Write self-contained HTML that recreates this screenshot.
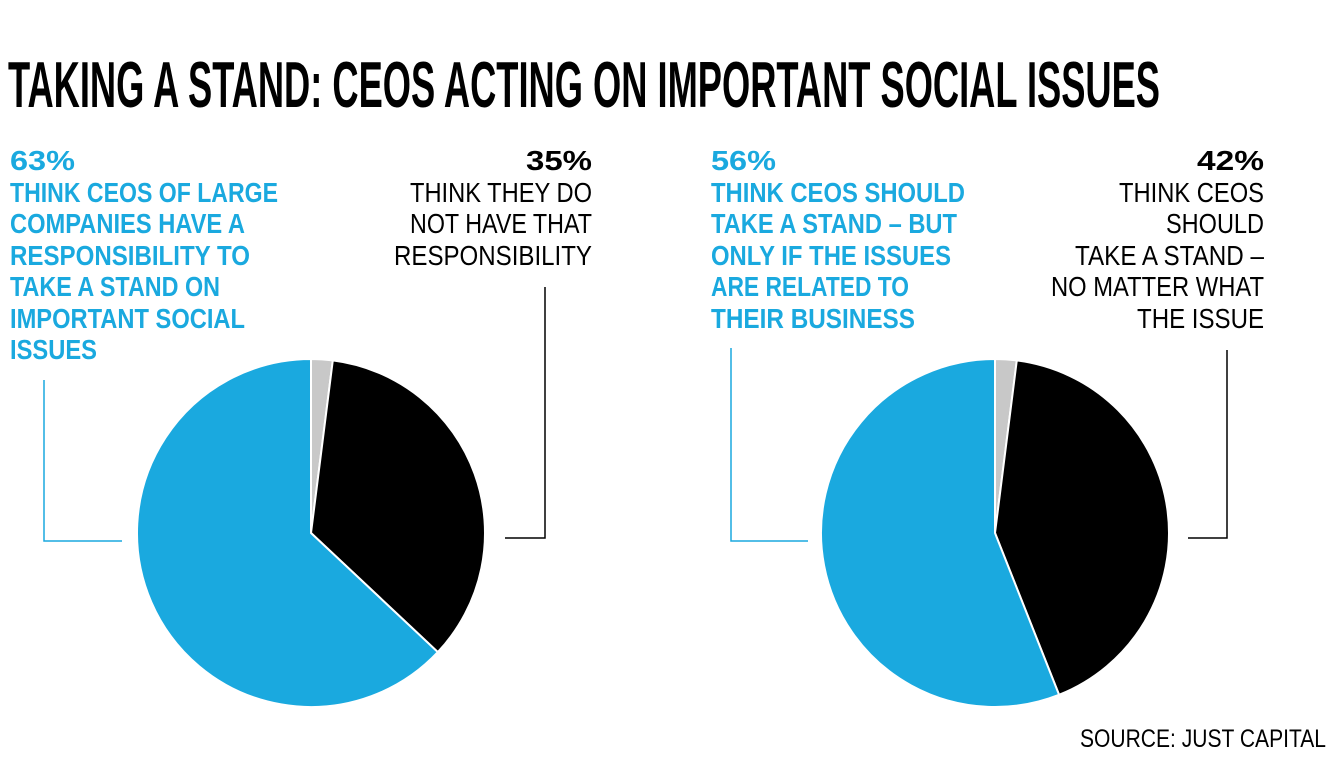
<!DOCTYPE html>
<html><head><meta charset="utf-8"><style>
html,body{margin:0;padding:0;background:#fff;}
svg{display:block;font-family:"Liberation Sans",sans-serif;}
</style></head><body>
<svg width="1333" height="767" viewBox="0 0 1333 767">
<text x="8" y="107" font-size="65" font-weight="bold" textLength="1152" lengthAdjust="spacingAndGlyphs">TAKING A STAND: CEOS ACTING ON IMPORTANT SOCIAL ISSUES</text>
<g id="pies"></g>
<g font-size="28" font-weight="bold" fill="#1aa9df">
<text x="10" y="170" textLength="65" lengthAdjust="spacingAndGlyphs">63%</text>
<text x="10" y="202" textLength="268" lengthAdjust="spacingAndGlyphs">THINK CEOS OF LARGE</text>
<text x="10" y="233" textLength="235" lengthAdjust="spacingAndGlyphs">COMPANIES HAVE A</text>
<text x="10" y="265" textLength="240" lengthAdjust="spacingAndGlyphs">RESPONSIBILITY TO</text>
<text x="10" y="296" textLength="210" lengthAdjust="spacingAndGlyphs">TAKE A STAND ON</text>
<text x="10" y="328" textLength="235" lengthAdjust="spacingAndGlyphs">IMPORTANT SOCIAL</text>
<text x="10" y="359" textLength="87" lengthAdjust="spacingAndGlyphs">ISSUES</text>
</g>
<g font-size="28" fill="#000" text-anchor="end">
<text x="592" y="170" font-weight="bold" textLength="66" lengthAdjust="spacingAndGlyphs">35%</text>
<text x="592" y="202" textLength="182" lengthAdjust="spacingAndGlyphs">THINK THEY DO</text>
<text x="592" y="233" textLength="182" lengthAdjust="spacingAndGlyphs">NOT HAVE THAT</text>
<text x="592" y="265" textLength="198" lengthAdjust="spacingAndGlyphs">RESPONSIBILITY</text>
</g>
<g font-size="28" font-weight="bold" fill="#1aa9df">
<text x="711" y="170" textLength="65" lengthAdjust="spacingAndGlyphs">56%</text>
<text x="711" y="202" textLength="254" lengthAdjust="spacingAndGlyphs">THINK CEOS SHOULD</text>
<text x="711" y="233" textLength="246" lengthAdjust="spacingAndGlyphs">TAKE A STAND – BUT</text>
<text x="711" y="265" textLength="240" lengthAdjust="spacingAndGlyphs">ONLY IF THE ISSUES</text>
<text x="711" y="296" textLength="198" lengthAdjust="spacingAndGlyphs">ARE RELATED TO</text>
<text x="711" y="328" textLength="204" lengthAdjust="spacingAndGlyphs">THEIR BUSINESS</text>
</g>
<g font-size="28" fill="#000" text-anchor="end">
<text x="1264" y="170" font-weight="bold" textLength="67" lengthAdjust="spacingAndGlyphs">42%</text>
<text x="1264" y="202" textLength="145" lengthAdjust="spacingAndGlyphs">THINK CEOS</text>
<text x="1264" y="233" textLength="98" lengthAdjust="spacingAndGlyphs">SHOULD</text>
<text x="1264" y="265" textLength="189" lengthAdjust="spacingAndGlyphs">TAKE A STAND –</text>
<text x="1264" y="296" textLength="213" lengthAdjust="spacingAndGlyphs">NO MATTER WHAT</text>
<text x="1264" y="328" textLength="127" lengthAdjust="spacingAndGlyphs">THE ISSUE</text>
</g>
<g fill="none" stroke-width="1.5">
<polyline points="44,380 44,541 122,541" stroke="#1aa9df"/>
<polyline points="545,287 545,538 505,538" stroke="#000"/>
<polyline points="731,348 731,541 808,541" stroke="#1aa9df"/>
<polyline points="1227,350 1227,538 1188,538" stroke="#000"/>
</g>
<text x="1326" y="747" font-size="25" text-anchor="end" textLength="246" lengthAdjust="spacingAndGlyphs">SOURCE: JUST CAPITAL</text>
</svg>
<script>
const categories = ["Other", "No / Regardless", "Yes / Only if related"];
const pie1Values = [2, 35, 63];
const pie2Values = [2, 42, 56];
const colors = ["#c8c8c8", "#000000", "#1aa9df"];
const NS = "http://www.w3.org/2000/svg";
const g = document.getElementById("pies");
function pt(cx, cy, r, frac) {
  const a = frac * 2 * Math.PI;
  return [cx + r * Math.sin(a), cy - r * Math.cos(a)];
}
function drawPie(values, cx, cy, r, name) {
  const total = values.reduce((a, b) => a + b, 0);
  let acc = 0;
  values.forEach((v, i) => {
    const s = acc / total, e = (acc + v) / total;
    acc += v;
    const p0 = pt(cx, cy, r, s), p1 = pt(cx, cy, r, e);
    const large = (e - s) > 0.5 ? 1 : 0;
    const path = document.createElementNS(NS, "path");
    path.setAttribute("d", `M${cx},${cy} L${p0[0]},${p0[1]} A${r},${r} 0 ${large} 1 ${p1[0]},${p1[1]} Z`);
    path.setAttribute("fill", colors[i]);
    path.setAttribute("stroke", "#fff");
    path.setAttribute("stroke-width", "2");
    
    
    g.appendChild(path);
  });
}
drawPie(pie1Values, 311, 533, 174, "pie1");
drawPie(pie2Values, 995, 533, 174, "pie2");
</script>
</body></html>
